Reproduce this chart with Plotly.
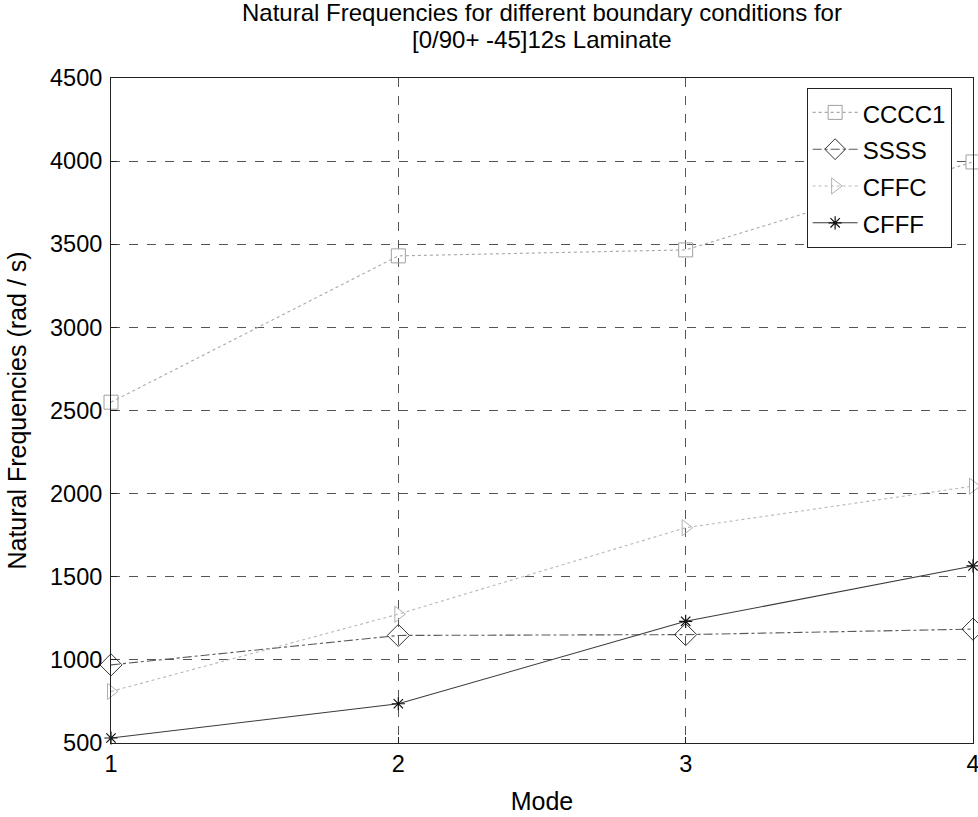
import plotly.graph_objects as go

# Mode numbers and natural frequencies (rad/s) per boundary condition
modes = [1, 2, 3, 4]
cccc1 = [2550, 3430, 3466, 3995]
ssss = [970, 1147, 1152, 1185]
cffc = [810, 1275, 1795, 2045]
cfff = [530, 736, 1232, 1565]

series_names = ["CCCC1", "SSSS", "CFFC", "CFFF"]
x_ticks = [1, 2, 3, 4]
y_ticks = [500, 1000, 1500, 2000, 2500, 3000, 3500, 4000, 4500]

title_lines = ["Natural Frequencies for different boundary conditions for",
               "[0/90+ -45]12s Laminate"]

FONT = "Liberation Sans, Arial, sans-serif"

fig = go.Figure()

styles = [
    (cccc1, dict(color="#a8a8a8", width=1.1, dash="dot"),
     dict(symbol="square-open", size=14, color="#a0a0a0", line=dict(width=1))),
    (ssss, dict(color="#5a5a5a", width=1.1, dash="dashdot"),
     dict(symbol="diamond-open", size=17, color="#333333", line=dict(width=1))),
    (cffc, dict(color="#b8b8b8", width=1.1, dash="dot"),
     dict(symbol="triangle-right-open", size=14, color="#b0b0b0", line=dict(width=1))),
    (cfff, dict(color="#3a3a3a", width=1.1, dash="solid"),
     dict(symbol="asterisk-open", size=11, color="#111111", line=dict(width=1.2))),
]

for name, (vals, line, marker) in zip(series_names, styles):
    fig.add_trace(go.Scatter(
        x=modes, y=vals, mode="lines+markers",
        name="<span style='font-size:24px'>%s</span>" % name,
        line=line, marker=marker, cliponaxis=False,
    ))

axis_common = dict(
    showline=True, linecolor="#222222", linewidth=1, mirror=True,
    showgrid=True, gridcolor="#555555", gridwidth=1, griddash="dash",
    zeroline=False, ticks="inside", ticklen=6, tickcolor="#222222",
    tickfont=dict(family=FONT, size=23.5, color="black"),
    ticklabeloverflow="allow", automargin=False,
)

fig.update_xaxes(
    range=[1, 4], tickvals=x_ticks,
    title=dict(text="Mode", font=dict(family=FONT, size=25, color="black"), standoff=16),
    **axis_common,
)
fig.update_yaxes(
    range=[500, 4500], tickvals=y_ticks, ticklabelstandoff=3,
    title=dict(text="Natural Frequencies (rad / s)",
               font=dict(family=FONT, size=25, color="black"), standoff=16),
    **axis_common,
)

# Two-line chart title, one annotation per line
for text, ypos in zip(title_lines, [1.0992, 1.0586]):
    fig.add_annotation(
        text=text, xref="paper", yref="paper", x=0.5, y=ypos,
        xanchor="center", yanchor="middle", showarrow=False,
        font=dict(family=FONT, size=24, color="black"),
    )

fig.update_layout(
    width=978, height=817,
    margin=dict(l=111, r=5, t=78, b=74, autoexpand=False),
    paper_bgcolor="white", plot_bgcolor="white",
    legend=dict(
        x=0.807, y=0.985, xanchor="left", yanchor="top",
        bgcolor="white", bordercolor="#222222", borderwidth=1,
        font=dict(family=FONT, size=26, color="black"),
        itemwidth=45, tracegroupgap=0,
    ),
    showlegend=True,
)

fig.write_html("out.html")
